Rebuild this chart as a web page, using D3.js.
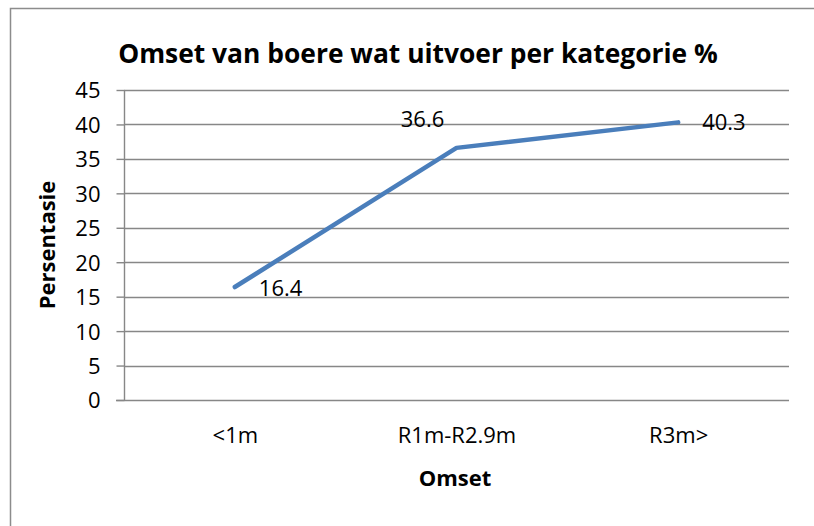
<!DOCTYPE html>
<html>
<head>
<meta charset="utf-8">
<script src="https://cdn.jsdelivr.net/npm/d3@7"></script>
<style>
  html, body { margin: 0; padding: 0; background: #fff; }
  svg { display: block; }
  text { font-family: "Open Sans", sans-serif; fill: #000; }
</style>
</head>
<body>
<svg id="chart" width="814" height="526"></svg>
<script>
// ---- data ----
const title = "Omset van boere wat uitvoer per kategorie %";
const categories = ["<1m", "R1m-R2.9m", "R3m>"];
const values = [16.4, 36.6, 40.3];
const yTicks = [0, 5, 10, 15, 20, 25, 30, 35, 40, 45];
const xTitle = "Omset";
const yTitle = "Persentasie";

// ---- layout ----
const W = 814, H = 526;
const plot = { left: 124, right: 789, top: 90, bottom: 400 };
const labelOffsets = [[24, 3, "start"], [-34, -27, "middle"], [24, 2, "start"]];
const gridColor = "#878787";
const lineColor = "#4A7EBB";

const svg = d3.select("#chart");
svg.append("rect").attr("width", W).attr("height", H).attr("fill", "#fff");
svg.append("rect")
  .attr("x", 10.5).attr("y", 8.5).attr("width", W + 10).attr("height", H + 10)
  .attr("fill", "none").attr("stroke", "#8c8c8c").attr("stroke-width", 1.5);

const x = d3.scalePoint().domain(categories).range([plot.left, plot.right]).padding(0.5);
const y = d3.scaleLinear().domain([0, 45]).range([plot.bottom, plot.top]);

// gridlines
svg.append("g").selectAll("line").data(yTicks.filter(t => t > 0)).join("line")
  .attr("x1", plot.left).attr("x2", plot.right)
  .attr("y1", d => Math.round(y(d)) + 0.5).attr("y2", d => Math.round(y(d)) + 0.5)
  .attr("stroke", gridColor).attr("stroke-width", 1.4);

// y axis
const yAxis = svg.append("g").attr("transform", `translate(${plot.left + 0.5},0)`)
  .call(d3.axisLeft(y).tickValues(yTicks).tickSize(8).tickPadding(16).tickFormat(d3.format("d")));
yAxis.select(".domain").attr("stroke", gridColor).attr("stroke-width", 1.4)
  .attr("d", `M0,${y(45)}V${y(0)}`);
yAxis.selectAll(".tick line").attr("stroke", gridColor).attr("stroke-width", 1.4);
yAxis.selectAll(".tick text").style("font-size", "22px").style("font-family", "Open Sans").attr("dy", "0.36em");

// x axis
const xAxis = svg.append("g").attr("transform", `translate(0,${Math.round(plot.bottom) + 0.5})`)
  .call(d3.axisBottom(x).tickSize(0).tickPadding(27));
xAxis.select(".domain").attr("stroke", gridColor).attr("stroke-width", 1.4)
  .attr("d", `M${plot.left - 8},0H${plot.right}`);
xAxis.selectAll(".tick text").style("font-size", "22px").style("font-family", "Open Sans");

// line
const line = d3.line().x((d, i) => x(categories[i])).y(d => y(d));
svg.append("path").datum(values)
  .attr("d", line).attr("fill", "none")
  .attr("stroke", lineColor).attr("stroke-width", 4.5)
  .attr("stroke-linecap", "round").attr("stroke-linejoin", "round");

// data labels
svg.append("g").selectAll("text").data(values).join("text")
  .attr("x", (d, i) => x(categories[i]) + labelOffsets[i][0])
  .attr("y", (d, i) => y(d) + labelOffsets[i][1])
  .attr("text-anchor", (d, i) => labelOffsets[i][2])
  .attr("dominant-baseline", "middle")
  .style("font-size", "22px")
  .text(d => d3.format(".1f")(d));

// title
const t = svg.append("text").attr("x", 418).attr("y", 63)
  .attr("text-anchor", "middle").style("font-weight", "bold").style("font-size", "24px")
  .text(title);
const tw = t.node().getComputedTextLength();
t.style("font-size", (24 * 600 / tw) + "px");

// axis titles
svg.append("text").attr("x", 455).attr("y", 486).attr("text-anchor", "middle")
  .style("font-weight", "bold").style("font-size", "22px").text(xTitle);
svg.append("text").attr("transform", "translate(55,245) rotate(-90)")
  .attr("text-anchor", "middle").style("font-weight", "bold").style("font-size", "22px").text(yTitle);
</script>
</body>
</html>
